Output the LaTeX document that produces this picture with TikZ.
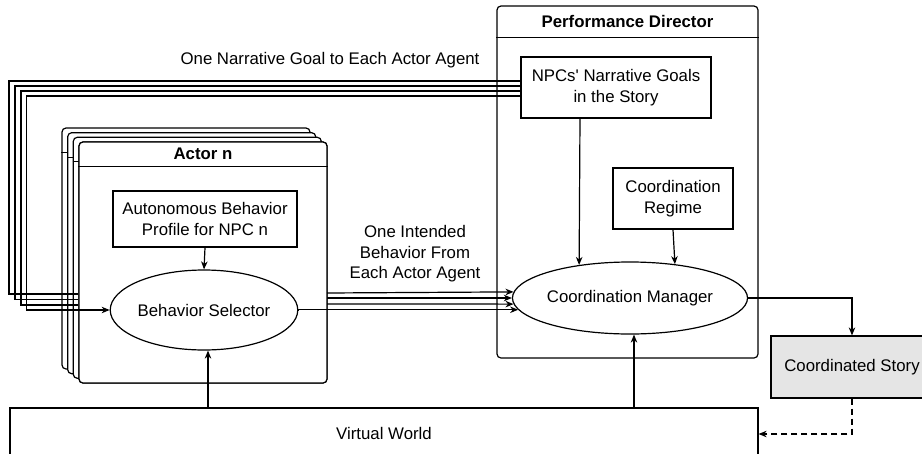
\documentclass[tikz,border=0pt]{standalone}
\usepackage{fontspec}
\setmainfont{Liberation Sans}
\usetikzlibrary{arrows.meta,shapes.geometric}
\begin{document}
\begin{tikzpicture}[x=1pt,y=-1pt,
  every node/.style={font=\fontsize{16.8}{20.5}\selectfont, align=center, inner sep=0pt},
  lane/.style={draw, rounded corners=4pt, fill=white, line width=1.2pt, minimum width=248pt, minimum height=241pt},
  box/.style={draw, fill=white, line width=1.2pt},
  oval/.style={draw, ellipse, fill=white, line width=1.2pt},
  conn/.style={line width=1.2pt, -{Stealth[length=8pt,width=6.5pt,inset=2.5pt]}},
  plain/.style={line width=1.2pt},
  titlefont/.style={font=\fontsize{16.8}{20.5}\selectfont\bfseries},
]
\useasboundingbox (0,0) rectangle (922,453);

% Virtual World
\node[box, minimum width=748pt, minimum height=50pt] (vw) at (384,433) {Virtual World};

% Performance Director
\node[lane, minimum width=261pt, minimum height=352pt] (pd) at (627.5,182) {};
\draw[plain] ([yshift=-32pt]pd.north west) -- ([yshift=-32pt]pd.north east);
\node[titlefont] (pdt) at ([yshift=-16pt]pd.north) {Performance Director};
\node[box, minimum width=190pt, minimum height=61pt] (npc) at (616,87.5) {NPCs\textquotesingle{} Narrative Goals\\in the Story};
\node[box, minimum width=120pt, minimum height=61pt] (reg) at (673,198.5) {Coordination\\Regime};
\node[oval, minimum width=216pt, minimum height=72pt] (cm) at (630,298) {Coordination Manager};

% stacked actors (back)
\foreach \n/\cx/\cy in {a1/186/248.5, a2/191.7/253.2, a3/197.3/257.8}{
  \node[lane] (\n) at (\cx,\cy) {};
  \draw[plain] ([yshift=-25pt]\n.north west) -- ([yshift=-25pt]\n.north east);
}

% narrative goal lines
\coordinate (k1) at (9,81);
\coordinate (k2) at (15,86);
\coordinate (k3) at (21,91);
\coordinate (k4) at (26.5,96);
\coordinate (j1) at (9,294);
\coordinate (j2) at (15,299.5);
\coordinate (j3) at (21,305);
\coordinate (j4) at (26.5,310);

\node[lane] (a4) at (203,262.5) {};
\draw[plain] (npc.west |- k1) -- (k1) -- (j1) -- (a4.west |- j1);
\draw[plain] (npc.west |- k2) -- (k2) -- (j2) -- (a4.west |- j2);
\draw[plain] (npc.west |- k3) -- (k3) -- (j3) -- (a4.west |- j3);

% front actor
\node[lane] (a4b) at (203,262.5) {};
\draw[plain] ([yshift=-25pt]a4b.north west) -- ([yshift=-25pt]a4b.north east);
\node[titlefont] (a4t) at ([yshift=-12.5pt]a4b.north) {Actor n};
\node[box, minimum width=184pt, minimum height=56pt] (prof) at (205,219) {Autonomous Behavior\\Profile for NPC n};
\node[oval, minimum width=169pt, minimum height=80pt] (bs) at (204,310) {Behavior Selector};

\draw[conn] (npc.west |- k4) -- (k4) -- (j4) -- (bs.west);

% labels
\node (lbl1) at (330,60) {One Narrative Goal to Each Actor Agent};
\node (lbl2) at (415,254) {One Intended\\Behavior From\\Each Actor Agent};

% intended behaviours
\coordinate (r1) at (327,293);
\coordinate (r2) at (327,298);
\coordinate (r3) at (327,304);
\draw[conn] (r1) -- (cm.177.3);
\draw[conn] (r2) -- (cm.west);
\draw[conn] (r3) -- (cm.183.2);
\draw[conn] (bs.east) -- (cm.186.7 -| bs.east) -- (cm.186.7);

% inner arrows
\draw[conn] (prof.south) -- (bs.north);
\draw[conn] ([xshift=4pt]vw.north -| bs.south) -- ([xshift=4pt]bs.south);
\draw[conn] ([xshift=-36pt]npc.south) -- (cm.147.5);
\draw[conn] (reg.south) -- (cm.37.5);
\draw[conn] ([xshift=4pt]vw.north -| cm.south) -- ([xshift=4pt]cm.south);

% coordinated story
\node[box, fill=black!10, minimum width=162pt, minimum height=62pt] (cs) at (852,367) {Coordinated Story};
\draw[conn] (cm.east) -- (cm.east -| cs.north) -- (cs.north);
\coordinate (dl) at (852,434);
\draw[conn, dash pattern=on 6pt off 4pt] (cs.south) -- (dl) -- (vw.east |- dl);
\end{tikzpicture}
\end{document}
